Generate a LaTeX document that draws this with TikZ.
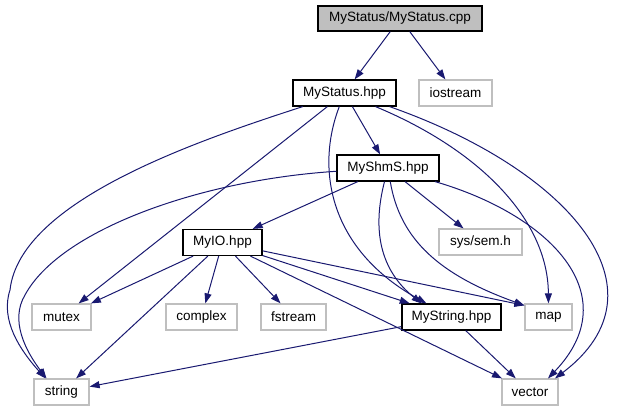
\documentclass[tikz,border=0pt]{standalone}
\usepackage{fontspec}
\setmainfont{Liberation Sans}
\usetikzlibrary{arrows.meta}
\definecolor{edgecol}{HTML}{191970}
\definecolor{undoc}{HTML}{BFBFBF}
\definecolor{mainfill}{HTML}{BFBFBF}
\tikzset{
  box/.style={rectangle, inner sep=0pt, minimum height=26pt, text=black,
    font=\fontsize{13.5}{15}\selectfont, line width=1.2pt},
  docbox/.style={box, draw=black},
  ubox/.style={box, draw=undoc},
  dep/.style={draw=edgecol, line width=1pt, -{Triangle[length=10pt,width=7pt,fill=edgecol]}}
}
\begin{document}
\begin{tikzpicture}[x=1pt,y=-1pt]
\useasboundingbox (0,0) rectangle (617,411);
% nodes
\node[docbox, fill=mainfill, minimum width=164pt, minimum height=25pt] (cpp) at (400,18.5) {MyStatus/MyStatus.cpp};
\node[docbox, minimum width=103pt] (status) at (344.5,93) {MyStatus.hpp};
\node[ubox, minimum width=73pt] (iostream) at (455.5,93) {iostream};
\node[docbox, minimum width=102pt] (shms) at (388,168) {MyShmS.hpp};
\node[ubox, minimum width=83pt] (sem) at (480.5,242) {sys/sem.h};
\node[docbox, minimum width=79pt] (myio) at (222.5,242.5) {MyIO.hpp};
\node[ubox, minimum width=59pt] (mutex) at (61.5,317) {mutex};
\node[ubox, minimum width=71pt] (complex) at (201.5,317) {complex};
\node[ubox, minimum width=65pt] (fstream) at (293.5,317) {fstream};
\node[docbox, minimum width=99pt] (mystring) at (451.5,317) {MyString.hpp};
\node[ubox, minimum width=47pt] (map) at (548.5,317) {map};
\node[ubox, minimum width=55pt] (string) at (61.5,392) {string};
\node[ubox, minimum width=56pt] (vector) at (530,392) {vector};
% edges from cpp
\draw[dep] (cpp) -- (status);
\draw[dep] (cpp) -- (iostream);
% edges from MyStatus.hpp
\draw[dep] (status) .. controls (200,140) and (20,200) .. (10,290) .. controls (0,320) and (20,350) .. ([xshift=-16pt]string.north);
\draw[dep] (status) -- (mutex);
\draw[dep] (status) -- (shms);
\draw[dep] (status) .. controls (315,170) and (330,250) .. ([xshift=-25pt]mystring.north);
\draw[dep] ([xshift=31pt]status.south) .. controls (480,150) and (548,220) .. (map);
\draw[dep] ([xshift=45pt]status.south) .. controls (570,170) and (672,290) .. ([xshift=25pt]vector.north);
% edges from MyShmS.hpp
\draw[dep] (shms) .. controls (200,180) and (60,230) .. (25,295) .. controls (10,320) and (25,350) .. ([xshift=-15pt]string.north);
\draw[dep] (shms) -- (myio);
\draw[dep] (shms) .. controls (372,230) and (380,270) .. ([xshift=-30pt]mystring.north);
\draw[dep] (shms) -- (sem);
\draw[dep] (shms) .. controls (400,240) and (440,275) .. ([yshift=-2pt]map.north west);
\draw[dep] ([xshift=47pt]shms.south) .. controls (550,215) and (628,295) .. ([xshift=18pt]vector.north);
% edges from MyIO.hpp
\draw[dep] (myio) -- (mutex);
\draw[dep] (myio) -- (string);
\draw[dep] (myio) -- (complex);
\draw[dep] (myio) -- (fstream);
\draw[dep] (myio) -- (mystring);
\draw[dep] (myio) -- ([yshift=-2pt]map.north west);
\draw[dep] (myio) -- (vector);
% edges from MyString.hpp
\draw[dep] (mystring) -- (string);
\draw[dep] (mystring) -- (vector);
\end{tikzpicture}
\end{document}
